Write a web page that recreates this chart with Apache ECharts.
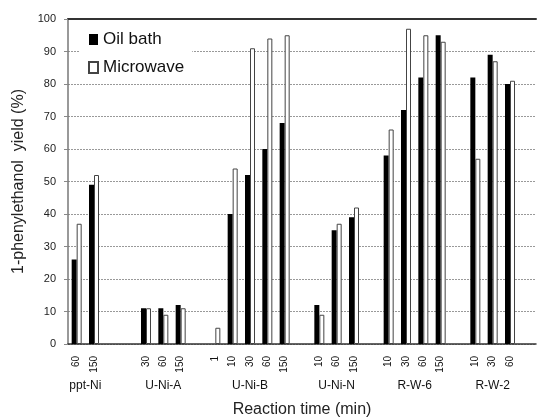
<!DOCTYPE html>
<html>
<head>
<meta charset="utf-8">
<script src="https://cdn.jsdelivr.net/npm/echarts@6/dist/echarts.min.js"></script>
<style>
    html, body { margin: 0; padding: 0; background: #fff; }
    #chart { width: 539px; height: 418px; }
</style>
</head>
<body>
<div id="chart"></div>
<script>
// catalysts and their reaction times (min)
var groupNames = ['ppt-Ni', 'U-Ni-A', 'U-Ni-B', 'U-Ni-N', 'R-W-6', 'R-W-2'];
var timeLabels = [
    ['60', '150'],
    ['30', '60', '150'],
    ['1', '10', '30', '60', '150'],
    ['10', '60', '150'],
    ['10', '30', '60', '150'],
    ['10', '30', '60']
];
// 1-phenylethanol yield (%)
var oilBath = [
    [26, 49],
    [11, 11, 12],
    [0, 40, 52, 60, 68],
    [12, 35, 39],
    [58, 72, 82, 95],
    [82, 89, 80]
];
var microwave = [
    [37, 52],
    [11, 9, 11],
    [5, 54, 91, 94, 95],
    [9, 37, 42],
    [66, 97, 95, 93],
    [57, 87, 81]
];
var yTicks = [0, 10, 20, 30, 40, 50, 60, 70, 80, 90, 100];

var gapAfter = [2, 1, 1, 1, 1]; // empty slots between groups

var categories = [];
var oilData = [];
var micData = [];
var groupCenters = [];
for (var g = 0; g < groupNames.length; g++) {
    var start = categories.length;
    for (var i = 0; i < timeLabels[g].length; i++) {
        categories.push(timeLabels[g][i]);
        oilData.push(oilBath[g][i]);
        micData.push(microwave[g][i]);
    }
    groupCenters.push((start + categories.length) / 2);
    var gap = g < gapAfter.length ? gapAfter[g] : 1;
    for (var k = 0; k < gap; k++) {
        categories.push('');
        oilData.push('-');
        micData.push('-');
    }
}

var chart = echarts.init(document.getElementById('chart'), null, { renderer: 'canvas' });
var option = {
    animation: false,
    backgroundColor: '#fff',
    textStyle: { fontFamily: 'Liberation Sans, Arial, sans-serif' },
    grid: { left: 68, right: 3, top: 19, bottom: 74, outerBoundsMode: 'none', containLabel: false },
    legend: {
        orient: 'vertical',
        left: 80,
        top: 27,
        padding: [4, 8, 4, 8],
        itemGap: 11,
        itemWidth: 9,
        itemHeight: 11,
        backgroundColor: '#fff',
        textStyle: { fontSize: 17, color: '#111', fontFamily: 'Liberation Sans, Arial, sans-serif' },
        data: [
            { name: 'Oil bath', icon: 'rect' },
            { name: 'Microwave', icon: 'rect' }
        ]
    },
    xAxis: [
        {
            type: 'category',
            position: 'bottom',
            data: categories,
            axisLine: { lineStyle: { color: '#333', width: 1.5 } },
            axisTick: { show: false },
            axisLabel: {
                interval: 0,
                rotate: 90,
                fontSize: 10,
                color: '#111',
                margin: 12
            },
            name: 'Reaction time (min)',
            nameLocation: 'middle',
            nameGap: 58,
            nameTextStyle: { fontSize: 16, color: '#222' }
        },
        {
            type: 'value',
            position: 'bottom',
            min: 0,
            max: categories.length,
            axisLine: { show: false },
            axisTick: { show: false },
            splitLine: { show: false },
            axisLabel: {
                customValues: groupCenters,
                margin: 36,
                fontSize: 12,
                color: '#111',
                formatter: function(value) {
                    var idx = groupCenters.indexOf(value);
                    return idx >= 0 ? groupNames[idx] : '';
                }
            }
        },
        {
            type: 'category',
            position: 'top',
            data: categories,
            axisLine: { lineStyle: { color: '#333', width: 2 } },
            axisTick: { show: false },
            axisLabel: { show: false }
        }
    ],
    yAxis: {
        type: 'value',
        min: 0,
        max: 100,
        interval: 10,
        axisLine: { show: true, lineStyle: { color: '#777', width: 1.5 } },
        axisTick: { show: true, length: 4, lineStyle: { color: '#888' } },
        axisLabel: {
            fontSize: 11,
            color: '#222',
            margin: 12,
            formatter: function(v) { return yTicks.indexOf(v) >= 0 ? String(v) : ''; }
        },
        splitLine: { lineStyle: { color: '#999', type: [2, 1], width: 1 } },
        name: '1-phenylethanol  yield (%)',
        nameLocation: 'middle',
        nameGap: 41,
        nameTextStyle: { fontSize: 16, color: '#222' }
    },
    series: [
        {
            name: 'Oil bath',
            type: 'bar',
            xAxisIndex: 0,
            barWidth: 5,
            barGap: '0%',
            itemStyle: { color: '#000' },
            data: oilData
        },
        {
            name: 'Microwave',
            type: 'bar',
            xAxisIndex: 0,
            barWidth: 5,
            barGap: '0%',
            itemStyle: { color: '#fff', borderColor: '#444', borderWidth: 1 },
            data: micData
        }
    ]
};
chart.setOption(option);
</script>
</body>
</html>
